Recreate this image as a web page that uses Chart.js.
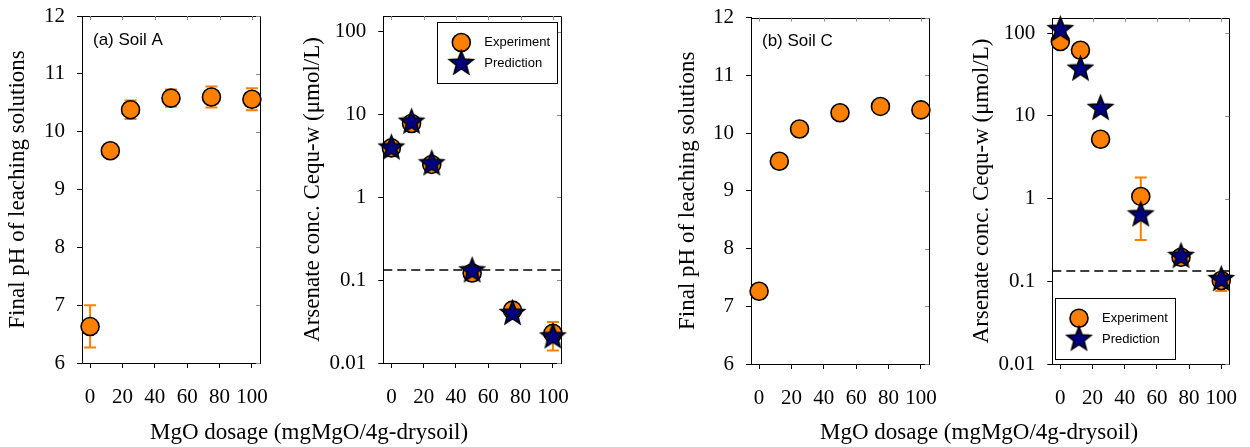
<!DOCTYPE html>
<html>
<head>
<meta charset="utf-8">
<script src="https://cdn.jsdelivr.net/npm/chart.js@4.4.1/dist/chart.umd.min.js"></script>
<style>
  html, body { margin: 0; padding: 0; background: #fff; }
  body { width: 1250px; height: 447px; position: relative; overflow: hidden; }
  .panel { position: absolute; top: 0; height: 447px; }
  .xlabel { position: absolute; top: 419px; line-height: 26px; font-family: 'Liberation Serif', serif; font-size: 23px; color: #000; white-space: nowrap; transform: translateX(-50%); }
</style>
</head>
<body>
<div class="panel" style="left:0px;width:300px"><canvas id="c1"></canvas></div>
<div class="panel" style="left:298px;width:302px"><canvas id="c2"></canvas></div>
<div class="panel" style="left:670px;width:300px"><canvas id="c3"></canvas></div>
<div class="panel" style="left:966px;width:284px"><canvas id="c4"></canvas></div>
<div class="xlabel" style="left:309px">MgO dosage (mgMgO/4g-drysoil)</div>
<div class="xlabel" style="left:979px">MgO dosage (mgMgO/4g-drysoil)</div>
<script>
// ---------------- DATA ----------------
const dosage = [0, 12.5, 25, 50, 75, 100];
const xTicks = [0, 20, 40, 60, 80, 100];
const xRange = [-5, 105];
const phTicks = [6, 7, 8, 9, 10, 11, 12];
const concTicks = [0.01, 0.1, 1, 10, 100];
const concTickLabels = ['0.01', '0.1', '1', '10', '100'];

const phSoilA     = [6.63, 9.67, 10.38, 10.58, 10.60, 10.56];
const phSoilALow  = [6.27, 9.57, 10.22, 10.43, 10.42, 10.37];
const phSoilAHigh = [7.00, 9.77, 10.54, 10.73, 10.78, 10.75];

const phSoilC     = [7.26, 9.51, 10.07, 10.35, 10.46, 10.40];

const asSoilAExp     = [3.96, 7.8, 2.5, 0.122, 0.0435, 0.0228];
const asSoilAExpLow  = [3.6, 7.0, 2.3, 0.11, 0.040, 0.0142];
const asSoilAExpHigh = [4.3, 8.5, 2.7, 0.135, 0.047, 0.0312];
const asSoilAPred    = [3.95, 8.1, 2.55, 0.13, 0.0397, 0.0207];

const asSoilCExp     = [79, 62, 5.2, 1.06, 0.195, 0.102];
const asSoilCExpLow  = [72, 57, 4.8, 0.316, 0.18, 0.076];
const asSoilCExpHigh = [86, 67, 5.6, 1.8, 0.21, 0.125];
const asSoilCPred    = [110, 36.7, 12.3, 0.635, 0.2, 0.105];

const drinkingLimit = 0.133;

// ---------------- STYLE ----------------
const SERIF = "'Liberation Serif', 'Times New Roman', serif";
const SANS = "'Liberation Sans', Arial, sans-serif";
const ORANGE = '#FF8000';
const NAVY = '#000080';

function makeStar(R, fill, stroke, lw) {
  const s = Math.ceil(2 * R + lw * 2 + 4);
  const c = document.createElement('canvas');
  c.width = s; c.height = s;
  const g = c.getContext('2d');
  const cx = s / 2, cy = s / 2;
  g.beginPath();
  for (let k = 0; k < 10; k++) {
    const r = k % 2 === 0 ? R : R * 0.43;
    const a = -Math.PI / 2 + k * Math.PI / 5;
    g.lineTo(cx + r * Math.cos(a), cy + r * Math.sin(a));
  }
  g.closePath();
  g.fillStyle = fill; g.fill();
  g.lineWidth = lw; g.strokeStyle = stroke; g.lineJoin = 'miter'; g.stroke();
  return c;
}
const starImg = makeStar(12.5, NAVY, '#000', 1.6);

const pts = (xs, ys) => xs.map((x, i) => ({ x: x, y: ys[i] }));

// ---------------- PLUGINS ----------------
const frameTicks = {
  id: 'frameTicks',
  beforeDatasetsDraw(chart) {
    const { ctx, chartArea: a, scales } = chart;
    ctx.save();
    ctx.strokeStyle = '#000'; ctx.lineWidth = 1;
    ctx.beginPath();
    ctx.moveTo(Math.round(a.left) + 0.5, Math.round(a.top) + 0.5);
    ctx.lineTo(Math.round(a.right) + 0.5, Math.round(a.top) + 0.5);
    ctx.lineTo(Math.round(a.right) + 0.5, Math.round(a.bottom) + 0.5);
    ctx.stroke();
    ctx.strokeStyle = '#8a8a8a';
    ctx.beginPath();
    scales.x.ticks.forEach(t => {
      const px = Math.round(scales.x.getPixelForValue(t.value)) + 0.5;
      ctx.moveTo(px, a.top); ctx.lineTo(px, a.top + 4);
    });
    scales.y.ticks.forEach(t => {
      const py = Math.round(scales.y.getPixelForValue(t.value)) + 0.5;
      ctx.moveTo(a.right, py); ctx.lineTo(a.right - 4, py);
    });
    ctx.stroke();
    ctx.restore();
  }
};

const errorBars = {
  id: 'errorBars',
  beforeDatasetsDraw(chart) {
    const { ctx, scales } = chart;
    ctx.save();
    ctx.strokeStyle = ORANGE; ctx.lineWidth = 2;
    chart.data.datasets.forEach(ds => {
      if (!ds.errLow) return;
      ds.data.forEach((p, i) => {
        const px = scales.x.getPixelForValue(p.x);
        const y1 = scales.y.getPixelForValue(ds.errLow[i]);
        const y2 = scales.y.getPixelForValue(ds.errHigh[i]);
        ctx.beginPath();
        ctx.moveTo(px, y1); ctx.lineTo(px, y2);
        ctx.moveTo(px - 6, y1); ctx.lineTo(px + 6, y1);
        ctx.moveTo(px - 6, y2); ctx.lineTo(px + 6, y2);
        ctx.stroke();
      });
    });
    ctx.restore();
  }
};

const panelText = {
  id: 'panelText',
  afterDraw(chart, args, opts) {
    if (!opts || !opts.text) return;
    const { ctx, chartArea: a } = chart;
    ctx.save();
    ctx.font = '17px ' + SANS;
    ctx.fillStyle = '#000';
    ctx.textBaseline = 'alphabetic';
    ctx.fillText(opts.text, a.left + opts.dx, a.top + opts.dy);
    ctx.restore();
  }
};

const boxLegend = {
  id: 'boxLegend',
  afterDraw(chart, args, opts) {
    if (!opts || !opts.show) return;
    const { ctx, chartArea: a } = chart;
    const w = 120, h = 61;
    const left = opts.anchor === 'topright' ? a.right - opts.dx - w : a.left + opts.dx;
    const top = opts.anchor === 'topright' ? a.top + opts.dy : a.bottom - opts.dy - h;
    ctx.save();
    ctx.fillStyle = '#fff';
    ctx.fillRect(left, top, w, h);
    ctx.strokeStyle = '#000'; ctx.lineWidth = 1;
    ctx.strokeRect(Math.round(left) + 0.5, Math.round(top) + 0.5, w, h);
    const items = chart.data.datasets.filter(d => d.legendLabel).sort((p, q) => p.legendRank - q.legendRank);
    items.forEach((d, k) => {
      const my = top + 20.5 + k * 21;
      const mx = left + 24;
      ctx.fillStyle = d.backgroundColor || '#000';
      ctx.strokeStyle = d.borderColor || '#000';
      ctx.lineWidth = d.borderWidth || 1;
      Chart.helpers.drawPoint(ctx, { pointStyle: d.pointStyle, radius: d.pointRadius, rotation: 0, borderWidth: d.borderWidth }, mx, my);
      ctx.fillStyle = '#000';
      ctx.font = '13px ' + SANS;
      ctx.textBaseline = 'middle';
      ctx.fillText(d.legendLabel, left + 47, my);
    });
    ctx.restore();
  }
};

// ---------------- SCALES ----------------
function xScale(bottomHeight) {
  return {
    type: 'linear', position: 'bottom', min: xRange[0], max: xRange[1],
    afterBuildTicks: s => { s.ticks = xTicks.map(v => ({ value: v })); },
    afterFit: s => { s.height = bottomHeight; s.paddingLeft = 0; s.paddingRight = 0; s.paddingTop = 0; s.paddingBottom = 0; },
    ticks: { autoSkip: false, maxRotation: 0, minRotation: 0, padding: 17, color: '#000', font: { family: SERIF, size: 21 }, callback: v => String(v) },
    grid: { drawOnChartArea: false, drawTicks: true, tickLength: 5, color: '#000', lineWidth: 1 },
    border: { display: true, color: '#000', width: 1 }
  };
}
function yScale(kind, min, max, width, title, titlePad) {
  const isLog = kind === 'log';
  return {
    type: isLog ? 'logarithmic' : 'linear', position: 'left', min: min, max: max,
    afterBuildTicks: s => { s.ticks = (isLog ? concTicks : phTicks).map(v => ({ value: v })); },
    afterFit: s => { s.width = width; s.paddingTop = 0; s.paddingBottom = 0; s.paddingLeft = 0; s.paddingRight = 0; },
    ticks: {
      autoSkip: false, padding: 12, color: '#000', font: { family: SERIF, size: 21 },
      callback: v => {
        if (!isLog) return String(v);
        const i = concTicks.findIndex(t => Math.abs(Math.log10(t) - Math.log10(v)) < 1e-6);
        return i >= 0 ? concTickLabels[i] : '';
      }
    },
    grid: { drawOnChartArea: false, drawTicks: true, tickLength: 5, color: '#000', lineWidth: 1 },
    border: { display: true, color: '#000', width: 1 },
    title: { display: true, text: title, color: '#000', padding: { top: titlePad, bottom: 0 }, font: { family: SERIF, size: 23, lineHeight: 1.2 } }
  };
}

function expDataset(ys, low, high) {
  const d = {
    label: 'Experiment', legendLabel: 'Experiment', legendRank: 0,
    data: pts(dosage, ys), showLine: false,
    pointStyle: 'circle', pointRadius: 9, pointHoverRadius: 9,
    backgroundColor: ORANGE, borderColor: '#000', borderWidth: 1.6,
    order: 2, clip: false
  };
  if (low) { d.errLow = low; d.errHigh = high; }
  return d;
}
function predDataset(ys) {
  return {
    label: 'Prediction', legendLabel: 'Prediction', legendRank: 1,
    data: pts(dosage, ys), showLine: false,
    pointStyle: starImg, pointRadius: 12, pointHoverRadius: 12,
    backgroundColor: NAVY, borderColor: '#000', borderWidth: 0,
    order: 1, clip: false
  };
}
function limitDataset() {
  return {
    label: 'limit', data: [{ x: xRange[0], y: drinkingLimit }, { x: xRange[1], y: drinkingLimit }],
    showLine: true, pointRadius: 0, borderColor: '#000', borderWidth: 1.5, borderDash: [9, 5],
    order: 3
  };
}

function makeChart(id, datasets, yOpts, layoutPad, bottomH, extra) {
  return new Chart(document.getElementById(id), {
    type: 'scatter',
    data: { datasets: datasets },
    options: {
      responsive: true, maintainAspectRatio: false, animation: false, events: [],
      layout: { padding: layoutPad },
      scales: { x: xScale(bottomH), y: yOpts },
      plugins: Object.assign({ legend: { display: false }, tooltip: { enabled: false } }, extra)
    },
    plugins: [frameTicks, errorBars, panelText, boxLegend]
  });
}

// Panel 1: pH Soil A
makeChart('c1',
  [expDataset(phSoilA, phSoilALow, phSoilAHigh)],
  yScale('lin', 6, 12, 82, 'Final pH of leaching solutions', 4.2),
  { top: 16, right: 40, bottom: 0, left: 0 }, 84,
  { panelText: { text: '(a) Soil A', dx: 11, dy: 29 } });

// Panel 2: As Soil A
makeChart('c2',
  [predDataset(asSoilAPred), expDataset(asSoilAExp, asSoilAExpLow, asSoilAExpHigh), limitDataset()],
  yScale('log', 0.01, 155, 85.3, 'Arsenate conc. Cequ-w (μmol/L)', 1.2),
  { top: 16, right: 39, bottom: 0, left: 0 }, 84,
  { boxLegend: { show: true, anchor: 'topright', dx: 3.7, dy: 6 } });

// Panel 3: pH Soil C
makeChart('c3',
  [expDataset(phSoilC)],
  yScale('lin', 6, 12, 81, 'Final pH of leaching solutions', 4.2),
  { top: 17.5, right: 41, bottom: 0, left: 0 }, 83,
  { panelText: { text: '(b) Soil C', dx: 11, dy: 28 } });

// Panel 4: As Soil C
makeChart('c4',
  [predDataset(asSoilCPred), expDataset(asSoilCExp, asSoilCExpLow, asSoilCExpHigh), limitDataset()],
  yScale('log', 0.01, 152, 86.3, 'Arsenate conc. Cequ-w (μmol/L)', 1.9),
  { top: 18, right: 20.7, bottom: 0, left: 0 }, 83,
  { boxLegend: { show: true, anchor: 'bottomleft', dx: 2.7, dy: 5.3 } });
</script>
</body>
</html>
